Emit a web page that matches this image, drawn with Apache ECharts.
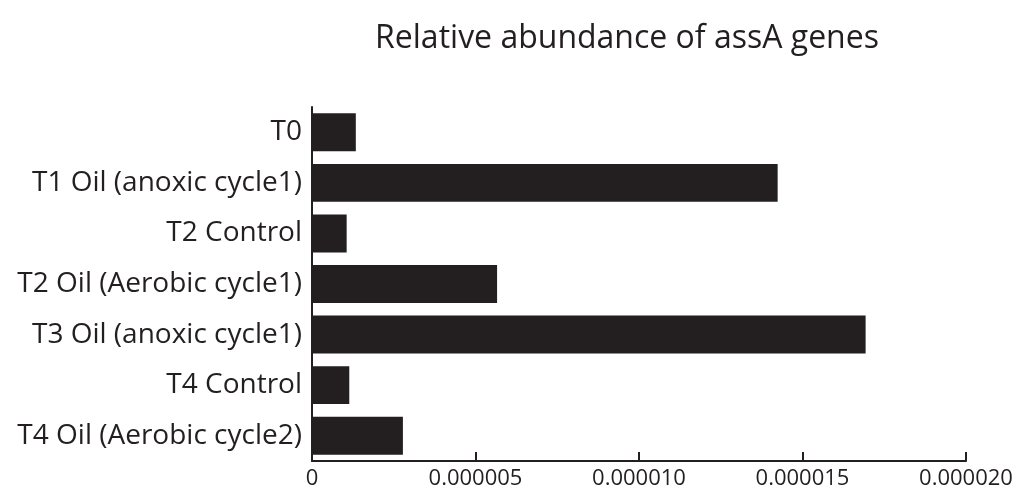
<!DOCTYPE html>
<html>
<head>
<meta charset="utf-8">
<style>
  html, body { margin: 0; padding: 0; background: #ffffff; }
  #chart { width: 1021px; height: 495px; }
</style>
<script src="https://cdn.jsdelivr.net/npm/echarts@6/dist/echarts.min.js"></script>
</head>
<body>
<div id="chart"></div>
<script>
// Samples, listed top to bottom
const categories = [
  'T0',
  'T1 Oil (anoxic cycle1)',
  'T2 Control',
  'T2 Oil (Aerobic cycle1)',
  'T3 Oil (anoxic cycle1)',
  'T4 Control',
  'T4 Oil (Aerobic cycle2)'
];
// Relative abundance of assA per sample
const abundance = [
  0.00000134,
  0.00001424,
  0.00000106,
  0.00000566,
  0.00001693,
  0.00000114,
  0.00000278
];
const xTicks = { min: 0, max: 0.00002, interval: 0.000005 };

const FONT = '"Open Sans", "Noto Sans", sans-serif';
const INK = '#231f20';

const chart = echarts.init(document.getElementById('chart'), null, { renderer: 'canvas' });
chart.setOption({
  animation: false,
  backgroundColor: '#ffffff',
  title: {
    text: 'Relative abundance of assA genes',
    left: 622,
    textAlign: 'center',
    top: 18,
    textStyle: { fontFamily: FONT, fontSize: 32, fontWeight: 'normal', color: INK }
  },
  grid: { left: 312, right: 55, top: 107, bottom: 34, containLabel: false },
  xAxis: {
    type: 'value',
    min: xTicks.min,
    max: xTicks.max,
    interval: xTicks.interval,
    axisLine: { show: true, lineStyle: { color: INK, width: 2 } },
    axisTick: { show: true, inside: true, length: 9, lineStyle: { color: INK, width: 2 } },
    splitLine: { show: false },
    axisLabel: {
      fontFamily: FONT, fontSize: 22, color: INK, margin: 7,
      formatter: v => (v === 0 ? '0' : v.toFixed(6))
    }
  },
  yAxis: {
    type: 'category',
    data: categories,
    inverse: true,
    axisLine: { show: true, lineStyle: { color: INK, width: 2 } },
    axisTick: { show: false },
    axisLabel: { fontFamily: FONT, fontSize: 28, color: INK, margin: 10 }
  },
  series: [{
    type: 'bar',
    data: abundance,
    barCategoryGap: '25%',
    itemStyle: { color: INK }
  }]
});
</script>
</body>
</html>
